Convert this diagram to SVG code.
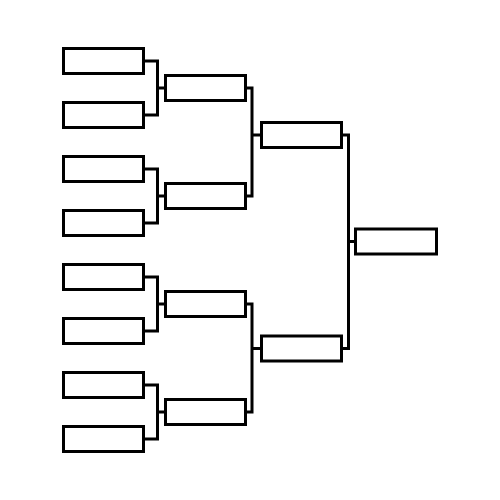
<svg xmlns="http://www.w3.org/2000/svg" width="500" height="500" viewBox="0 0 500 500">
<style>
.box{fill:#fff;stroke:#000;stroke-width:3}
.c{fill:none;stroke:#000;stroke-width:3;stroke-linejoin:miter}
</style>
<rect width="500" height="500" fill="#fff"/>
<g id="connectors">
<path class="c" d="M145 61 H157.5 V115 H145 M157.5 88 H164"/>
<path class="c" d="M145 169 H157.5 V223 H145 M157.5 196 H164"/>
<path class="c" d="M145 277 H157.5 V331 H145 M157.5 304 H164"/>
<path class="c" d="M145 385 H157.5 V439 H145 M157.5 412 H164"/>
<path class="c" d="M247 88 H252 V196 H247 M252 135 H260"/>
<path class="c" d="M247 304 H252 V412 H247 M252 348.5 H260"/>
<path class="c" d="M343 135 H348.5 V348.5 H343 M348.5 241.5 H354"/>
</g>
<g id="r1-1"><rect class="box" x="63.5" y="48.5" width="80" height="25"/></g>
<g id="r1-2"><rect class="box" x="63.5" y="102.5" width="80" height="25"/></g>
<g id="r1-3"><rect class="box" x="63.5" y="156.5" width="80" height="25"/></g>
<g id="r1-4"><rect class="box" x="63.5" y="210.5" width="80" height="25"/></g>
<g id="r1-5"><rect class="box" x="63.5" y="264.5" width="80" height="25"/></g>
<g id="r1-6"><rect class="box" x="63.5" y="318.5" width="80" height="25"/></g>
<g id="r1-7"><rect class="box" x="63.5" y="372.5" width="80" height="25"/></g>
<g id="r1-8"><rect class="box" x="63.5" y="426.5" width="80" height="25"/></g>
<g id="r2-1"><rect class="box" x="165.5" y="75.5" width="80" height="25"/></g>
<g id="r2-2"><rect class="box" x="165.5" y="183.5" width="80" height="25"/></g>
<g id="r2-3"><rect class="box" x="165.5" y="291.5" width="80" height="25"/></g>
<g id="r2-4"><rect class="box" x="165.5" y="399.5" width="80" height="25"/></g>
<g id="r3-1"><rect class="box" x="261.5" y="122.5" width="80" height="25"/></g>
<g id="r3-2"><rect class="box" x="261.5" y="336" width="80" height="25"/></g>
<g id="final"><rect class="box" x="355.5" y="229" width="81" height="25"/></g>
</svg>
